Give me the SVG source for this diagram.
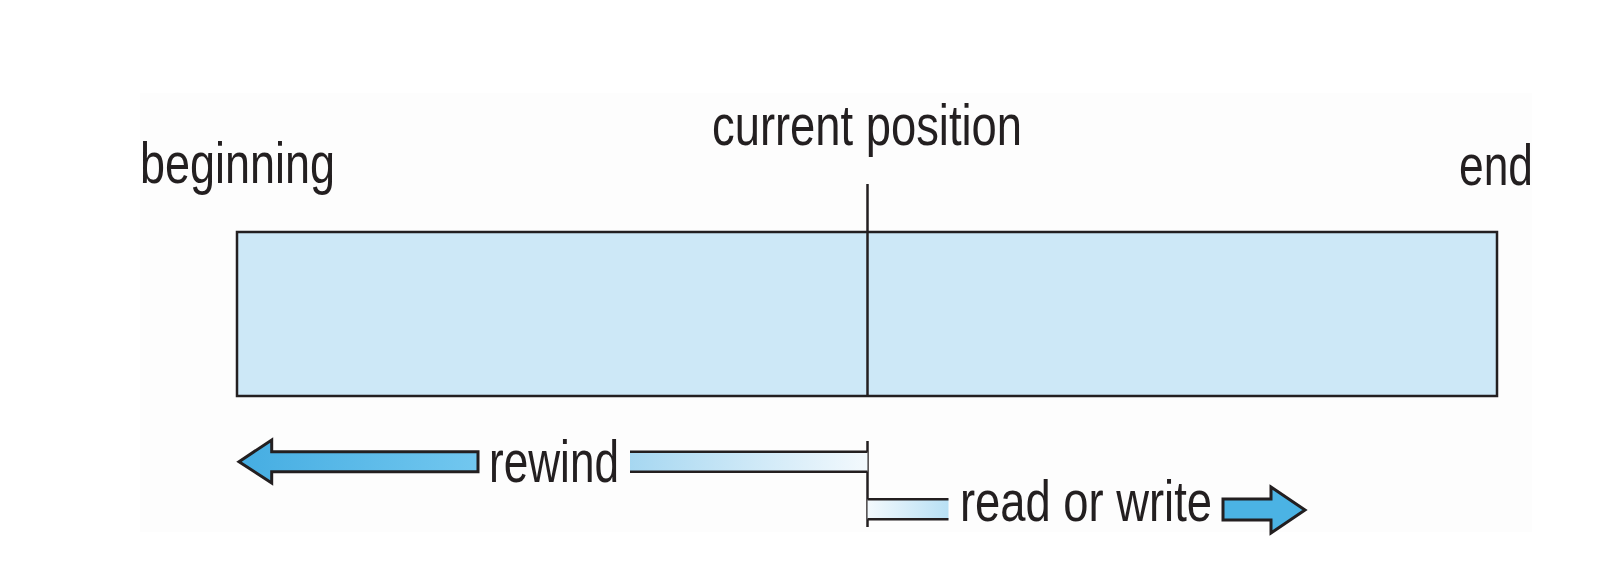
<svg xmlns="http://www.w3.org/2000/svg" width="1608" height="586" viewBox="0 0 1608 586">
<defs>
<style>
.lbl{font-family:"Liberation Sans",Arial,sans-serif;font-size:58px;fill:#231f20}
.edge{stroke:#231f20;stroke-width:2.5;fill:none}
.arrow{fill:#4bb3e4;stroke:#231f20;stroke-width:3;stroke-linejoin:miter}
</style>
<linearGradient id="gRewind" x1="0" y1="0" x2="1" y2="0">
<stop offset="0" stop-color="#a6d7f1"/>
<stop offset="1" stop-color="#f3f9fd"/>
</linearGradient>
<linearGradient id="gRead" x1="0" y1="0" x2="1" y2="0">
<stop offset="0" stop-color="#f3f9fd"/>
<stop offset="1" stop-color="#b8e0f4"/>
</linearGradient>
<linearGradient id="gArrowL" x1="0" y1="0" x2="1" y2="0">
<stop offset="0" stop-color="#45ade2"/>
<stop offset="1" stop-color="#72c7ef"/>
</linearGradient>
</defs>
<rect x="0" y="0" width="1608" height="586" fill="#ffffff"/>
<rect x="140" y="93" width="1392" height="439" fill="#fdfdfd"/>

<g id="tape">
<rect x="237" y="232" width="1260" height="164" fill="#cde8f7" stroke="#231f20" stroke-width="2.5"/>
</g>

<g id="labels">
<text class="lbl" x="140" y="183" textLength="195" lengthAdjust="spacingAndGlyphs">beginning</text>
<text class="lbl" x="712" y="145" textLength="310" lengthAdjust="spacingAndGlyphs">current position</text>
<text class="lbl" x="1459" y="185" textLength="74" lengthAdjust="spacingAndGlyphs">end</text>
</g>

<g id="connectors">
<line class="edge" x1="867.5" y1="184" x2="867.5" y2="396"/>
<line class="edge" x1="867.5" y1="441" x2="867.5" y2="527"/>
<g id="rewind">
<path class="arrow" style="fill:url(#gArrowL)" d="M239,461.7 L271.7,440 L271.7,451.7 L478,451.7 L478,471.7 L271.7,471.7 L271.7,483 Z"/>
<text class="lbl" x="489" y="482" style="font-size:60px" textLength="130" lengthAdjust="spacingAndGlyphs">rewind</text>
<rect x="630" y="451.7" width="237.5" height="20" fill="url(#gRewind)"/>
<line class="edge" x1="630" y1="451.7" x2="867.5" y2="451.7"/>
<line class="edge" x1="630" y1="471.7" x2="867.5" y2="471.7"/>
</g>
<g id="readwrite">
<rect x="867.5" y="499.3" width="81" height="20" fill="url(#gRead)"/>
<line class="edge" x1="867.5" y1="499.3" x2="948.5" y2="499.3"/>
<line class="edge" x1="867.5" y1="519.3" x2="948.5" y2="519.3"/>
<text class="lbl" x="960" y="521" style="font-size:58px" textLength="252" lengthAdjust="spacingAndGlyphs">read or write</text>
<path class="arrow" d="M1223,499 L1271,499 L1271,487 L1305,510 L1271,533 L1271,520 L1223,520 Z"/>
</g>
</g>
</svg>
